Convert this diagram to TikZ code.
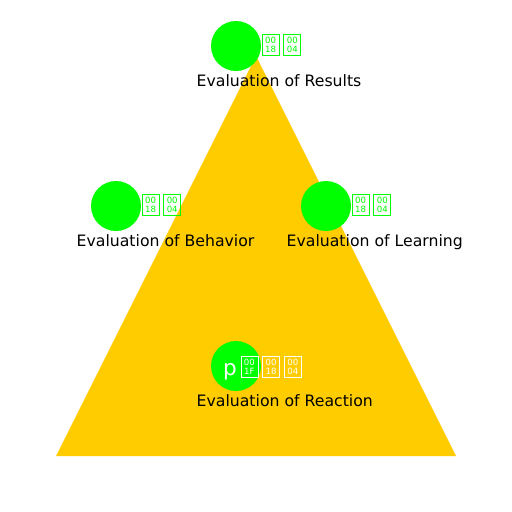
\documentclass[tikz,border=0pt]{standalone}
\usepackage{fontspec}
\setmainfont{DejaVu Sans}
\usetikzlibrary{positioning}
\definecolor{pyrgold}{RGB}{255,204,0}
\definecolor{levelgreen}{RGB}{0,255,0}

\begin{document}
\begin{tikzpicture}[
    x=1pt, y=-1pt,
    node distance=4pt,
    level/.style={circle, fill=levelgreen, minimum size=50pt, inner sep=0pt},
    caption/.style={font=\fontsize{15.7}{18}\selectfont, anchor=base west, inner sep=0pt},
    tofubox/.style={
        draw=#1, text=#1, line width=0.7pt,
        minimum width=17pt, minimum height=21pt, inner sep=0pt,
        align=center, font=\fontsize{8.6}{8.8}\selectfont
    },
    tofubox/.default=levelgreen
]
\useasboundingbox (0,0) rectangle (512,512);

% PYRAMID
\fill[pyrgold] (56,456) -- (256,56) -- (456,456) -- cycle;

% LEVEL MARKERS
\node[level] at (236,46) (results) {};
\node[level] at (116,206) (behavior) {};
\node[level] at (326,206) (learning) {};
\node[level] at (236,366) (reaction) {};

% MISSING GLYPH BOXES
\node[tofubox, anchor=west] at ([xshift=0.5pt, yshift=1pt]results.east) (results1) {00\\18};
\node[tofubox, right=of results1] (results2) {00\\04};
\node[tofubox, anchor=west] at ([xshift=0.5pt, yshift=1pt]behavior.east) (behavior1) {00\\18};
\node[tofubox, right=of behavior1] (behavior2) {00\\04};
\node[tofubox, anchor=west] at ([xshift=0.5pt, yshift=1pt]learning.east) (learning1) {00\\18};
\node[tofubox, right=of learning1] (learning2) {00\\04};

\node[font=\fontsize{21.5}{24}\selectfont, text=white, anchor=base west, inner sep=0pt] at (223,375) (reactionp) {p};
\node[tofubox=white, anchor=west] at (240.5,367) (reaction1) {00\\1F};
\node[tofubox=white, right=of reaction1] (reaction2) {00\\18};
\node[tofubox=white, right=of reaction2] (reaction3) {00\\04};

% LEVEL NAMES
\node[caption] at (196.5,86.7) (resultsname) {Evaluation of Results};
\node[caption] at (76.5,246.7) (behaviorname) {Evaluation of Behavior};
\node[caption] at (286.5,246.7) (learningname) {Evaluation of Learning};
\node[caption] at (196.5,406.7) (reactionname) {Evaluation of Reaction};

\end{tikzpicture}
\end{document}
